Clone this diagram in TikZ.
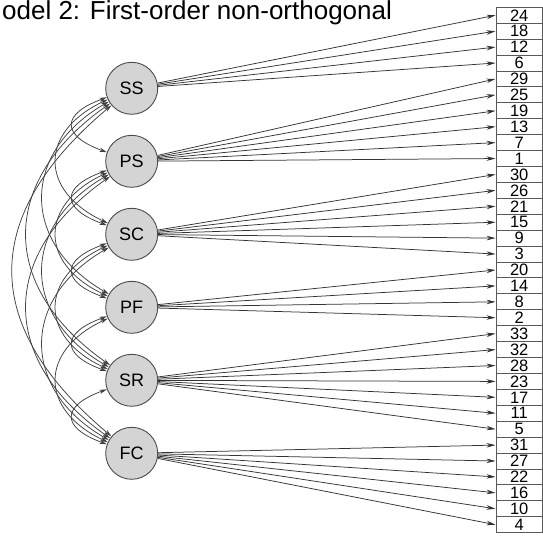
\documentclass[tikz,border=0pt]{standalone}
\usepackage{fontspec}
\setmainfont{Liberation Sans}
\usetikzlibrary{arrows.meta}
\begin{document}
\begin{tikzpicture}[x=1pt,y=1pt,
  lv/.style={circle, draw=black!70, fill=black!17, line width=0.9pt, minimum size=52pt, inner sep=0pt, font=\fontsize{18}{18}\selectfont},
  itembox/.style={rectangle, draw=black!65, fill=white, line width=0.9pt, minimum width=46.5pt, minimum height=15.92pt, inner sep=0pt, font=\fontsize{16.5}{16}\selectfont},
  fan/.style={draw=black!80, line width=0.75pt, -{Stealth[length=9pt,width=4.5pt]}},
  cov/.style={draw=black!75, line width=0.75pt, {Stealth[length=7.5pt,width=4.2pt]}-{Stealth[length=7.5pt,width=4.2pt]}},
  ttl/.style={anchor=base west, inner sep=0pt, font=\fontsize{26}{28}\selectfont}
]
\useasboundingbox (0,0) rectangle (543,536);

\node[ttl] (title) at (2,516) {odel 2: First-order non-orthogonal};

\node[lv] (SS) at (131.7,447.7) {SS};
\node[lv] (PS) at (131.7,374.7) {PS};
\node[lv] (SC) at (131.7,301.7) {SC};
\node[lv] (PF) at (131.7,228.7) {PF};
\node[lv] (SR) at (131.7,155.7) {SR};
\node[lv] (FC) at (131.7,82.7) {FC};

\foreach \n [count=\i from 0] in {24,18,12,6,29,25,19,13,7,1,30,26,21,15,9,3,20,14,8,2,33,32,28,23,17,11,5,31,27,22,16,10,4}
  \node[itembox] (b\n) at (519.2,{520.74-15.92*\i}) {\n};

\foreach \t in {24,18,12,6} \draw[fan] (SS) -- (b\t.west);
\foreach \t in {29,25,19,13,7,1} \draw[fan] (PS) -- (b\t.west);
\foreach \t in {30,26,21,15,9,3} \draw[fan] (SC) -- (b\t.west);
\foreach \t in {20,14,8,2} \draw[fan] (PF) -- (b\t.west);
\foreach \t in {33,32,28,23,17,11,5} \draw[fan] (SR) -- (b\t.west);
\foreach \t in {31,27,22,16,10,4} \draw[fan] (FC) -- (b\t.west);

\foreach \a/\b/\s/\e/\L in {SS/PS/200/160/49, PS/SC/200/160/49, SC/PF/200/160/49, PF/SR/200/160/49, SR/FC/200/160/49,
  SS/SC/205/155/76, PS/PF/205/155/76, SC/SR/205/155/76, PF/FC/205/155/76,
  SS/PF/210/150/102, PS/SR/210/150/102, SC/FC/210/150/102,
  SS/SR/215/145/136, PS/FC/215/145/136,
  SS/FC/220/140/172}
  \draw[cov] (\a.\s) .. controls +(\s:\L) and +(\e:\L) .. (\b.\e);
\end{tikzpicture}
\end{document}
